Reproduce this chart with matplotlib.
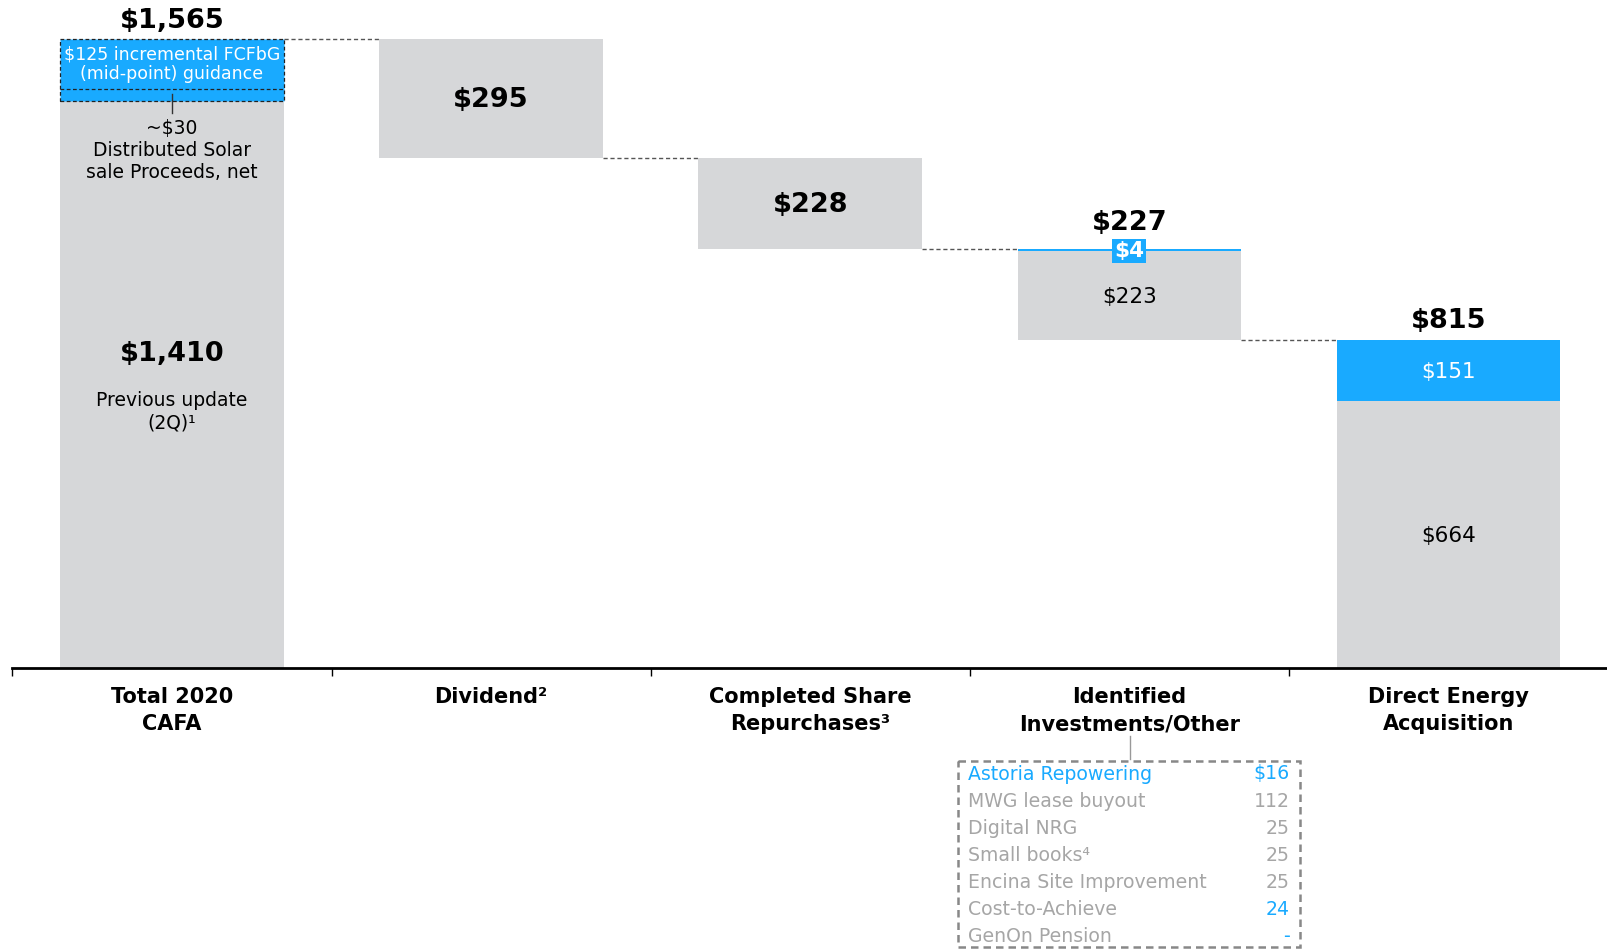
import numpy as np
import matplotlib.pyplot as plt
from matplotlib.patches import Rectangle

plt.rcParams['font.family'] = ['DejaVu Sans']

categories = ["Total 2020\nCAFA", "Dividend²", "Completed Share\nRepurchases³",
              "Identified\nInvestments/Other", "Direct Energy\nAcquisition"]
prev_update = 1410
solar = 30
incremental = 125
total = prev_update + solar + incremental      # 1565
dividend = 295
buyback = 228
ident_gray = 223
ident_blue = 4
de_gray = 664
de_blue = 151

breakdown_names = ["Astoria Repowering", "MWG lease buyout", "Digital NRG", "Small books⁴",
                   "Encina Site Improvement", "Cost-to-Achieve", "GenOn Pension"]
breakdown_vals = ["$16", "112", "25", "25", "25", "24", "-"]
breakdown_blue_name = [True, False, False, False, False, False, False]
breakdown_blue_val = [True, False, False, False, False, True, True]

GRAY = '#d6d7d9'
BLUE = '#19aaff'
LGRAY = '#a6a6a6'

fig = plt.figure(figsize=(16.08, 9.49), dpi=100)
ax = fig.add_axes([0.0077, 0.296, 0.9923, 0.704])
ax.set_xlim(-0.5, 4.5)
ax.set_ylim(0, 1662)
w = 0.70
x = np.arange(5)

# waterfall levels
lvl1 = total - dividend
lvl2 = lvl1 - buyback
lvl3 = lvl2 - (ident_gray + ident_blue)

# bar 1
ax.bar(0, prev_update, w, color=GRAY)
ax.bar(0, solar + incremental, w, bottom=prev_update, color=BLUE, edgecolor='#222',
       linewidth=0.9, linestyle=(0, (3, 2)))
ax.plot([-w / 2, w / 2], [prev_update + solar] * 2, color='#222', lw=0.9, ls=(0, (3, 2)))
ax.plot([0, 0], [1380, 1428], color='#333', lw=1)
# bar 2, 3
ax.bar(1, dividend, w, bottom=lvl1, color=GRAY)
ax.bar(2, buyback, w, bottom=lvl2, color=GRAY)
# bar 4
ax.bar(3, ident_gray, w, bottom=lvl3, color=GRAY)
ax.bar(3, ident_blue, w, bottom=lvl3 + ident_gray, color=BLUE)
# bar 5
ax.bar(4, de_gray, w, color=GRAY)
ax.bar(4, de_blue, w, bottom=de_gray, color=BLUE)

# connectors
for i, lv in enumerate([total, lvl1, lvl2, lvl3]):
    ax.plot([i + w / 2, i + 1 - w / 2], [lv, lv], color='#555', lw=1, ls=(0, (3, 2)))

# labels
big = 19.5
ax.text(0, 1611, "$1,565", ha='center', va='center', fontsize=big, fontweight='bold')
ax.text(0, prev_update + solar + incremental / 2, "$125 incremental FCFbG\n(mid-point) guidance",
        ha='center', va='center', fontsize=12.5, color='white', linespacing=1.15)
ax.text(0, 1287, "~$30\nDistributed Solar\nsale Proceeds, net", ha='center', va='center',
        fontsize=13.5, linespacing=1.2)
ax.text(0, 782, "$1,410", ha='center', va='center', fontsize=big, fontweight='bold')
ax.text(0, 638, "Previous update\n(2Q)¹", ha='center', va='center', fontsize=13.5, linespacing=1.2)
ax.text(1, lvl1 + dividend / 2 - 5, "$295", ha='center', va='center', fontsize=big, fontweight='bold')
ax.text(2, lvl2 + buyback / 2 - 5, "$228", ha='center', va='center', fontsize=big, fontweight='bold')
ax.text(3, 1108, "$227", ha='center', va='center', fontsize=big, fontweight='bold')
ax.text(3, 1037, "$4", ha='center', va='center', fontsize=15.5, fontweight='bold', color='white',
        bbox=dict(boxstyle='square,pad=0.1', fc=BLUE, ec='none'))
ax.text(3, lvl3 + ident_gray / 2 - 4, "$223", ha='center', va='center', fontsize=15.5)
ax.text(4, 863, "$815", ha='center', va='center', fontsize=big, fontweight='bold')
ax.text(4, de_gray + de_blue / 2 - 4, "$151", ha='center', va='center', fontsize=15.5, color='white')
ax.text(4, de_gray / 2 - 4, "$664", ha='center', va='center', fontsize=15.5)

for i, c in enumerate(categories):
    ax.text(i, -47, c, ha='center', va='top', fontsize=15, fontweight='bold',
            linespacing=1.45, clip_on=False)

for s in ['top', 'right', 'left']:
    ax.spines[s].set_visible(False)
ax.spines['bottom'].set_linewidth(2)
ax.set_yticks([])
ax.set_xticks(np.arange(-0.5, 5, 1))
ax.set_xticklabels([])
ax.tick_params(axis='x', direction='out', length=6, width=1)

# breakdown box (pixel overlay)
ov = fig.add_axes([0, 0, 1, 1])
ov.set_xlim(0, 1608)
ov.set_ylim(949, 0)
ov.axis('off')
ov.plot([1130, 1130], [736, 759], color='#999', lw=1)
ov.add_patch(Rectangle((958, 761), 342, 186, fill=False, ec='#888', lw=1.8, ls=(0, (3, 2))))
for k, (n, v) in enumerate(zip(breakdown_names, breakdown_vals)):
    yy = 774 + k * 27.1
    ov.text(968, yy, n, ha='left', va='center', fontsize=13.6,
            color=BLUE if breakdown_blue_name[k] else LGRAY)
    ov.text(1290, yy, v, ha='right', va='center', fontsize=13.6,
            color=BLUE if breakdown_blue_val[k] else LGRAY)

fig.savefig('out.png', dpi=100)
